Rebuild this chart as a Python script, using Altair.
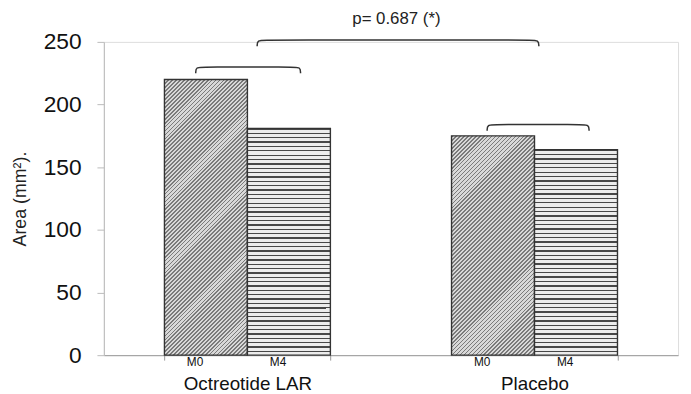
import altair as alt
import pandas as pd

# ---- data ----
groups = ["Octreotide LAR", "Octreotide LAR", "Placebo", "Placebo"]
times = ["M0", "M4", "M0", "M4"]
areas = [220, 181, 175, 164]
group_order = ["Octreotide LAR", "Placebo"]
time_order = ["M0", "M4"]
y_ticks = [0, 50, 100, 150, 200, 250]
y_title = "Area (mm²)."

# comparison brackets (x on a 0..2 category-index axis, y in data units)
bracket_x0 = [0.320, 1.335, 0.534]
bracket_x1 = [0.685, 1.690, 1.515]
bracket_top = [230, 184, 251.5]
bracket_drop = 5
p_label = ["p= 0.687 (*)"]
p_label_x = [1.019]
p_label_y = [268]

FONT = "Liberation Sans"
W, H, YMAX = 581, 317, 250
PAD_INNER, PAD_OUTER = 0.422, 0.211

step = W / 2
bar_w = step * (1 - PAD_INNER) / 2


def stripes(n, dark, light, frac):
    stops = []
    for i in range(n):
        t0, t1, t2 = i / n, (i + frac) / n, (i + 1) / n
        stops += [
            alt.GradientStop(color=dark, offset=t0),
            alt.GradientStop(color=dark, offset=t1),
            alt.GradientStop(color=light, offset=t1),
            alt.GradientStop(color=light, offset=t2),
        ]
    return stops


def diag_fill(w, h, period=4.0):
    L = w + h
    n = int(round(L / period))
    a = w * L / (w * w + h * h)
    b = h * L / (w * w + h * h)
    return alt.LinearGradient(gradient="linear",
                              stops=stripes(n, "#7a7a7a", "#d8d8d8", 0.45),
                              x1=0, y1=0, x2=a, y2=b)


def horiz_fill(h, period=4.4):
    n = int(round(h / period))
    return alt.LinearGradient(gradient="linear",
                              stops=stripes(n, "#474747", "#ececec", 0.3),
                              x1=0, y1=0, x2=0.000001, y2=1)


df = pd.DataFrame({"idx": list(range(len(areas))), "group": groups,
                   "time": times, "area": areas})

x_enc = alt.X("group:N", sort=group_order,
              scale=alt.Scale(paddingInner=PAD_INNER, paddingOuter=PAD_OUTER),
              axis=alt.Axis(title=None, labelAngle=0, labelFontSize=19,
                            labelColor="#111", labelFont=FONT, labelPadding=15,
                            domainColor="#9a9a9a", tickColor="#9a9a9a",
                            tickSize=5, tickBand="extent"))
xo_enc = alt.XOffset("time:N", sort=time_order,
                     scale=alt.Scale(paddingInner=0, paddingOuter=0))
y_enc = alt.Y("area:Q", scale=alt.Scale(domain=[0, YMAX], nice=False),
              axis=alt.Axis(values=y_ticks, title=y_title, titleFont=FONT,
                            titleFontSize=18, titleFontWeight="normal",
                            titleColor="#222", titlePadding=14,
                            labelFont=FONT, labelFontSize=23, labelColor="#111",
                            labelPadding=16, tickSize=7, tickColor="#bbbbbb",
                            domainColor="#bbbbbb", grid=False))

bar_layers = []
for i in range(len(areas)):
    h = areas[i] * H / YMAX
    fill = diag_fill(bar_w, h) if times[i] == "M0" else horiz_fill(h)
    bar_layers.append(
        alt.Chart(df).transform_filter(alt.datum.idx == i)
        .mark_bar(fill=fill, stroke="#333333", strokeWidth=1.4)
        .encode(x=x_enc, xOffset=xo_enc, y=y_enc)
    )

time_text = alt.Chart(df).mark_text(
    baseline="top", dy=2, dx=-11, fontSize=12, font=FONT, color="#111"
).encode(x=x_enc, xOffset=xo_enc, y=alt.datum(0), text="time:N")

bars = alt.layer(*bar_layers, time_text)

rows = []
for b in range(len(bracket_x0)):
    x0, x1, yt = bracket_x0[b], bracket_x1[b], bracket_top[b]
    yd = yt - bracket_drop
    d = 0.03
    pts = [(x0, yd), (x0, yt), (x0 + d, yt), (x1 - d, yt), (x1, yt), (x1, yd)]
    for k, (px, py) in enumerate(pts):
        rows.append({"bid": b, "ord": k, "bx": px, "area": py})
bdf = pd.DataFrame(rows)

bx_scale = alt.Scale(domain=[0, 2], nice=False, zero=False)

brackets = alt.Chart(bdf).mark_line(
    interpolate="basis", color="#333333", strokeWidth=1.5
).encode(
    x=alt.X("bx:Q", scale=bx_scale, axis=None),
    y=y_enc,
    detail="bid:N",
    order="ord:Q",
)

pdf = pd.DataFrame({"bx": p_label_x, "area": p_label_y, "t": p_label})
ptext = alt.Chart(pdf).mark_text(
    fontSize=17, font=FONT, color="#222", baseline="middle"
).encode(x=alt.X("bx:Q", scale=bx_scale, axis=None), y=y_enc, text="t:N")

chart = alt.layer(bars, brackets, ptext).resolve_scale(x="independent").properties(
    width=W, height=H,
    padding={"left": 97, "top": 32, "right": 5, "bottom": 37},
    autosize=alt.AutoSizeParams(type="none"),
).configure_view(stroke=None).configure(background="white")

chart.save("out.html", embed_options={"renderer": "svg", "actions": False})
